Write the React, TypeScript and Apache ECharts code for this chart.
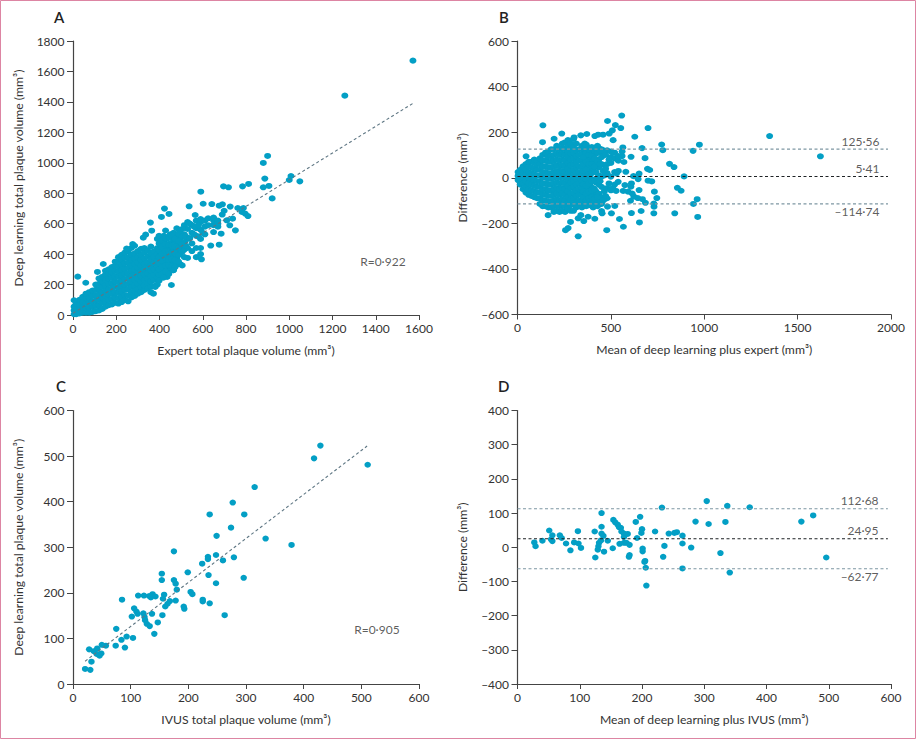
import React, { useEffect, useRef } from "react";
import * as echarts from "echarts";

type Pair = [number, number];
type Column = [number, number[]];

const outliersA: Pair[] = [
  [1572, 1671], [1257, 1441], [900, 1045], [880, 999], [887, 896], [880, 839], [906, 848], [921, 766],
  [1000, 887], [1008, 913], [1049, 878], [812, 861], [784, 845], [719, 839], [696, 845], [591, 810],
  [602, 731], [642, 729], [676, 718], [691, 727], [699, 685], [727, 712], [762, 703], [788, 703],
  [781, 677], [796, 666], [809, 650], [738, 633], [711, 622], [725, 589], [751, 556], [685, 534],
  [676, 462], [637, 456], [594, 366], [505, 326], [455, 197], [423, 699], [444, 664], [537, 714],
  [565, 657], [358, 607], [364, 554], [409, 644], [336, 528], [325, 508], [22, 252], [59, 212],
  [140, 335], [113, 283], [248, 436], [276, 466], [5, 97], [372, 140], [380, 184], [418, 245], [464, 294],
];
const cloudA: Column[] = [
  [5, [5, 30, 55]], [15, [5, 25, 50, 75]], [30, [10, 40, 70, 100]], [45, [15, 50, 85, 120]],
  [60, [15, 45, 75, 110, 140]], [75, [15, 50, 85, 115, 150]], [90, [20, 55, 90, 125, 160]],
  [105, [25, 60, 95, 130, 165, 200]], [120, [30, 65, 100, 135, 170, 205, 240]],
  [135, [40, 80, 115, 150, 185, 220, 250]], [150, [55, 90, 125, 160, 195, 230, 265, 290]],
  [165, [65, 100, 135, 170, 205, 240, 275, 300]], [180, [70, 105, 140, 175, 210, 245, 280, 315]],
  [195, [80, 115, 150, 185, 220, 255, 290, 325, 350]], [210, [75, 110, 145, 180, 215, 250, 285, 320, 355, 380]],
  [225, [85, 120, 155, 190, 225, 260, 295, 330, 365, 395]], [240, [100, 130, 165, 200, 235, 270, 305, 340, 375, 410]],
  [255, [90, 130, 170, 205, 240, 275, 310, 345, 380, 420]], [270, [115, 150, 185, 220, 255, 290, 325, 360, 395, 440]],
  [285, [125, 160, 195, 230, 265, 300, 335, 370, 405, 455]], [300, [140, 170, 205, 240, 275, 310, 345, 380, 420]],
  [315, [150, 185, 220, 255, 290, 325, 360, 395, 435]], [330, [165, 195, 230, 265, 300, 335, 370, 410, 440]],
  [345, [175, 210, 240, 275, 310, 345, 385, 425]], [360, [150, 185, 220, 255, 290, 325, 365, 405, 450]],
  [375, [190, 230, 265, 300, 340, 380, 420]], [390, [200, 245, 280, 315, 355, 400, 440, 500]],
  [405, [245, 290, 330, 370, 415, 460, 510]], [420, [260, 300, 345, 390, 435, 480, 520]],
  [435, [250, 310, 360, 405, 450, 500]], [450, [290, 340, 380, 430, 470, 530]],
  [465, [295, 345, 395, 440, 490, 540]], [480, [330, 375, 420, 465, 510, 570]],
  [495, [335, 400, 450, 500, 550]], [515, [380, 430, 480, 530, 590]], [530, [375, 440, 500, 565, 610]],
  [550, [420, 470, 540, 590]], [570, [380, 440, 520, 570, 620]], [590, [400, 440, 500, 560, 610, 630]],
  [610, [530, 580, 620]], [625, [590, 635]], [650, [545, 590, 620, 640]], [670, [580, 600, 620]], [690, [660]],
];
const extraA: Column[] = [
  [398, [225, 265, 300, 340, 380, 425, 470, 520]], [412, [270, 315, 355, 400, 445, 490]],
  [428, [285, 325, 375, 420, 465, 505, 555]], [443, [270, 330, 365, 415, 460, 515]],
  [458, [320, 365, 410, 455, 505, 520]], [472, [315, 360, 405, 450, 500]],
  [488, [350, 395, 440, 485, 535]], [505, [415, 465, 515, 565]],
  [522, [455, 515]], [540, [505, 600]], [560, [530, 580]], [580, [515, 590]], [600, [540]],
];
const outliersB: Pair[] = [
  [1350, 183], [1622, 94], [974, 145], [940, 118], [772, 146], [778, 121], [699, 218], [558, 273], [482, 249],
  [524, 231], [553, 218], [508, 208], [491, 194], [512, 165], [628, 180], [136, 230], [134, 156], [46, 94],
  [237, 194], [196, 171], [371, 192], [339, 186], [303, 177], [414, 183], [432, 189], [458, 189], [564, 133],
  [667, 130], [683, 86], [608, 92], [696, 39], [708, 34], [814, 61], [838, 47], [892, 6], [856, -44], [876, -57],
  [733, -61], [746, -89], [962, -94], [942, -115], [730, -113], [731, -127], [730, -156], [842, -156], [965, -172],
  [662, -146], [653, -196], [610, -155], [546, -181], [567, -215], [478, -230], [325, -257], [257, -230], [271, -221],
  [284, -194], [355, -190], [378, -171], [414, -180], [325, -178], [339, -164], [164, -164], [450, -146], [453, -156],
  [503, -156], [482, -127], [521, -124], [685, -110], [605, -101], [644, -89], [669, -94], [623, -83], [699, -13],
  [719, -16], [651, -54], [646, -6], [651, 18], [621, 7], [610, -25], [580, 26], [570, 69], [530, 19], [528, -58],
  [566, -58], [592, -61], [614, -69], [607, -39], [575, -32], [539, -18],
];
const cloudB: Column[] = [
  [3, [-10, 8, 25]], [15, [-30, -5, 20, 35]], [30, [-50, -25, 0, 25, 50]], [45, [-65, -40, -15, 10, 35, 60]],
  [60, [-75, -50, -25, 0, 25, 50, 70]], [75, [-80, -55, -30, -5, 20, 45, 70]],
  [90, [-85, -60, -35, -10, 15, 40, 65, 80]], [105, [-90, -65, -40, -15, 10, 35, 60, 75]],
  [120, [-115, -90, -65, -40, -15, 10, 35, 60, 85]], [135, [-125, -100, -75, -50, -25, 0, 25, 50, 75, 100]],
  [150, [-125, -100, -75, -50, -25, 0, 25, 50, 75, 100, 110]],
  [165, [-130, -105, -80, -55, -30, -5, 20, 45, 70, 95, 115]],
  [180, [-130, -105, -80, -55, -30, -5, 20, 45, 70, 95, 125]],
  [195, [-150, -125, -100, -75, -50, -25, 0, 25, 50, 75, 100, 125]],
  [210, [-145, -120, -95, -70, -45, -20, 5, 30, 55, 80, 105, 140]],
  [225, [-150, -125, -100, -75, -50, -25, 0, 25, 50, 75, 100, 125]],
  [240, [-145, -120, -95, -70, -45, -20, 5, 30, 55, 80, 105, 130, 150]],
  [255, [-150, -125, -100, -75, -50, -25, 0, 25, 50, 75, 100, 125, 155]],
  [270, [-135, -110, -85, -60, -35, -10, 15, 40, 65, 90, 115, 140, 165]],
  [285, [-145, -120, -95, -70, -45, -20, 5, 30, 55, 80, 105, 130, 150]],
  [300, [-145, -115, -90, -65, -40, -15, 10, 35, 60, 85, 110, 135, 170]],
  [315, [-130, -105, -80, -55, -30, -5, 20, 45, 70, 95, 120, 150]],
  [330, [-125, -100, -75, -50, -25, 0, 25, 50, 75, 100, 125]],
  [345, [-130, -105, -75, -45, -15, 15, 45, 75, 105, 140]],
  [360, [-115, -95, -60, -30, 0, 30, 60, 90, 120, 150]],
  [375, [-110, -85, -50, -15, 20, 55, 90, 135]],
  [390, [-100, -70, -35, 0, 40, 80, 120]],
  [405, [-130, -75, -45, -10, 30, 75, 100]],
  [420, [-110, -60, -20, 25, 65, 105]],
  [435, [-100, -70, -30, 10, 45, 80, 130]],
  [450, [-115, -85, -40, 5, 60, 90, 110, 125]],
  [465, [-95, -60, 10, 55, 115]],
  [480, [-90, -45, 20, 60, 120]],
  [500, [-55, 5, 65, 90, 115]],
  [520, [-30, 25, 85, 110]],
  [540, [30, 75, 95]],
];
const extraB: Column[] = [
  [352, [-120, -85, -60, -30, 0, 30, 60, 90, 125]], [368, [-125, -100, -70, -35, -5, 35, 70, 110, 145]],
  [382, [-120, -90, -60, -25, 15, 60, 100, 125]], [398, [-115, -85, -55, -15, 20, 60, 95, 135]],
  [412, [-120, -90, -50, -15, 25, 50, 85, 120]], [428, [-125, -85, 0, 70, 110, 140]],
  [442, [-115, -15, 60, 120]], [458, [-100, 30, 120]], [472, [-80, 40, 100]],
  [490, [-25, 80]], [510, [-45, 110]], [560, [95, 115]],
];
const pointsC: Pair[] = [
  [429, 523], [418, 495], [511, 481], [315, 432], [277, 398], [237, 372], [297, 372], [274, 343], [249, 325],
  [334, 319], [379, 305], [175, 291], [248, 283], [234, 279], [279, 278], [234, 274], [260, 271], [224, 264],
  [199, 245], [154, 242], [235, 239], [296, 233], [154, 228], [175, 228], [178, 220], [248, 221], [180, 207],
  [204, 202], [207, 197], [85, 185], [113, 194], [123, 194], [132, 193], [138, 197], [135, 190], [143, 192],
  [158, 196], [156, 187], [178, 183], [225, 185], [225, 181], [237, 177], [168, 182], [164, 176], [160, 170],
  [192, 170], [193, 165], [106, 166], [110, 159], [112, 154], [122, 155], [102, 148], [124, 147], [137, 154],
  [155, 151], [263, 151], [125, 140], [128, 132], [133, 127], [147, 135], [75, 121], [141, 110], [104, 101],
  [93, 104], [84, 97], [74, 84], [90, 80], [57, 84], [50, 86], [28, 76], [36, 72], [42, 78], [41, 66], [46, 62],
  [49, 67], [32, 49], [21, 33], [30, 31],
];
const pointsD: Pair[] = [
  [304, 135], [337, 121], [373, 117], [232, 116], [135, 100], [197, 89], [475, 93], [456, 75], [286, 75], [334, 74],
  [307, 68], [190, 74], [154, 80], [157, 73], [161, 66], [135, 60], [163, 59], [166, 57], [200, 53], [51, 49],
  [97, 47], [124, 46], [221, 46], [256, 44], [252, 42], [243, 40], [167, 46], [171, 40], [177, 39], [199, 42],
  [135, 40], [56, 35], [68, 35], [265, 34], [138, 33], [71, 27], [192, 27], [171, 30], [54, 23], [134, 20], [40, 19],
  [56, 18], [145, 19], [27, 14], [78, 11], [91, 14], [98, 11], [131, 13], [164, 10], [171, 13], [175, 13], [180, 7],
  [265, 11], [29, 3], [102, -2], [130, 3], [236, 4], [279, -1], [129, -7], [85, -9], [153, -3], [139, -13], [201, -4],
  [201, -12], [326, -17], [180, -23], [179, -28], [125, -30], [234, -28], [496, -30], [204, -43], [205, -40], [206, -60],
  [265, -62], [341, -74], [207, -112],
];
const trendA: Pair[] = [[0, 12], [1575, 1393]];
const trendC: Pair[] = [[21, 50], [510, 522]];
const limitsB = [125.56, 5.41, -114.74];
const limitLabelsB = ["125·56", "5·41", "–114·74"];
const limitsD = [112.68, 24.95, -62.77];
const limitLabelsD = ["112·68", "24·95", "–62·77"];

const FONT = "Lato";
const INK = "#333333";
const DOT = "#039fc5";
const TREND = "#5e7683";
const LIMIT = "#7e97a3";
const MEAN = "#1f2326";

const flat = (cols: Column[]): Pair[] => cols.flatMap(([x, ys]) => ys.map((y) => [x, y] as Pair));
const tickFmt = (v: number) => (v < 0 ? "–" + Math.abs(v) : String(v));

function xAxis(i: number, name: string, max: number, interval: number) {
  return {
    type: "value", gridIndex: i, min: 0, max, interval, name, nameLocation: "middle", nameGap: 29,
    nameTextStyle: { fontFamily: FONT, fontSize: 12.2, color: INK },
    axisLine: { show: true, onZero: false, lineStyle: { color: "#444", width: 1.2 } },
    axisTick: { show: true, length: 5, lineStyle: { color: "#444" } },
    axisLabel: { fontFamily: FONT, fontSize: 12, color: INK, margin: 7, formatter: tickFmt, hideOverlap: false, showMinLabel: true, showMaxLabel: true },
    splitLine: { show: false },
  };
}
function yAxis(i: number, name: string, min: number, max: number, interval: number) {
  return {
    type: "value", gridIndex: i, min, max, interval, name, nameLocation: "middle", nameGap: 49,
    nameTextStyle: { fontFamily: FONT, fontSize: 12.2, color: INK },
    axisLine: { show: true, onZero: false, lineStyle: { color: "#444", width: 1.2 } },
    axisTick: { show: true, length: 6, lineStyle: { color: "#444" } },
    axisLabel: { fontFamily: FONT, fontSize: 12, color: INK, margin: 8.5, formatter: tickFmt, hideOverlap: false, showMinLabel: true, showMaxLabel: true },
    splitLine: { show: false },
  };
}
const dots = (i: number, data: Pair[], size: number[]) => ({
  type: "scatter", xAxisIndex: i, yAxisIndex: i, data, symbol: "circle", symbolSize: size,
  itemStyle: { color: DOT, opacity: 1 }, silent: true,
});
const dashed = (i: number, data: Pair[], color: string) => ({
  type: "line", xAxisIndex: i, yAxisIndex: i, data, showSymbol: false, symbol: "none", z: 5, silent: true,
  lineStyle: { color, width: 1.1, type: [3, 2.5] },
});
const note = (i: number, x: number, y: number, text: string, position: string, align: string) => ({
  type: "scatter", xAxisIndex: i, yAxisIndex: i, data: [[x, y]], symbolSize: 0, z: 6, silent: true,
  label: { show: true, formatter: text, position, align, distance: 2, fontFamily: FONT, fontSize: 12, color: INK },
});
const letter = (text: string, left: number, top: number) => ({
  text, left, top, padding: 0,
  textStyle: { fontFamily: FONT, fontSize: 15, fontWeight: 600, color: "#222" },
});

function limitSeries(i: number, vals: number[], labels: string[], end: number, labelX: number) {
  const out: any[] = [];
  vals.forEach((v, k) => {
    out.push(dashed(i, [[0, v], [end, v]], k === 1 ? MEAN : LIMIT));
    out.push(note(i, labelX, v, labels[k], k === 2 ? "bottom" : "top", "right"));
  });
  return out;
}

export default function App() {
  const ref = useRef<HTMLDivElement>(null);
  useEffect(() => {
    document.body.style.margin = "0";
    const chart = echarts.init(ref.current!, null, { renderer: "svg" });
    chart.setOption({
      animation: false,
      backgroundColor: "#fff",
      title: [letter("A", 54, 9), letter("B", 499, 9), letter("C", 56, 378), letter("D", 498, 378)],
      grid: [
        { left: 73, top: 41, width: 346, height: 274 },
        { left: 517.5, top: 41, width: 373.5, height: 273.5 },
        { left: 73, top: 410.5, width: 346, height: 273.5 },
        { left: 517.5, top: 410.5, width: 373.5, height: 273.5 },
      ],
      xAxis: [
        xAxis(0, "Expert total plaque volume (mm³)", 1600, 200),
        xAxis(1, "Mean of deep learning plus expert (mm³)", 2000, 500),
        xAxis(2, "IVUS total plaque volume (mm³)", 600, 100),
        xAxis(3, "Mean of deep learning plus IVUS (mm³)", 600, 100),
      ],
      yAxis: [
        yAxis(0, "Deep learning total plaque volume (mm³)", 0, 1800, 200),
        yAxis(1, "Difference (mm³)", -600, 600, 200),
        yAxis(2, "Deep learning total plaque volume (mm³)", 0, 600, 100),
        yAxis(3, "Difference (mm³)", -400, 400, 100),
      ],
      series: [
        dots(0, [...flat(cloudA), ...flat(extraA), ...outliersA], [7, 6]),
        dashed(0, trendA, TREND),
        note(0, 1433, 353, "R=0·922", "inside", "center"),
        dots(1, [...flat(cloudB), ...flat(extraB), ...outliersB], [7, 6]),
        ...limitSeries(1, limitsB, limitLabelsB, 1984, 1938),
        dots(2, pointsC, [6.5, 6]),
        dashed(2, trendC, TREND),
        note(2, 527, 119, "R=0·905", "inside", "center"),
        dots(3, pointsD, [6.5, 6]),
        ...limitSeries(3, limitsD, limitLabelsD, 595, 580),
      ],
      graphic: [
        { type: "rect", silent: true, z: 100, shape: { x: 0.5, y: 0.5, width: 915, height: 738 }, style: { fill: "none", stroke: "#dd85a3", lineWidth: 1 } },
      ],
    });
    return () => chart.dispose();
  }, []);
  return <div ref={ref} style={{ width: 916, height: 739, position: "absolute", left: 0, top: 0 }} />;
}
